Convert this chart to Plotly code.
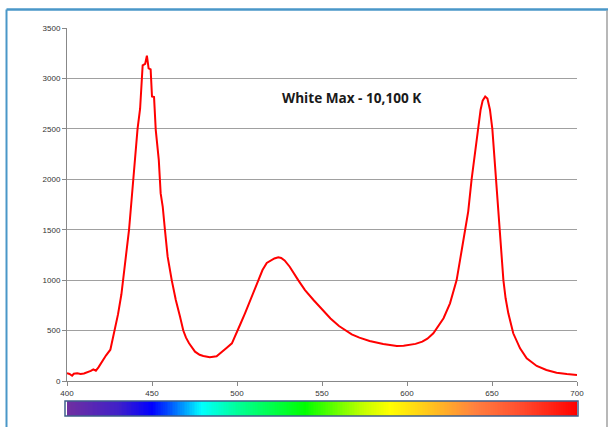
import plotly.graph_objects as go

# ---- data ----
wavelength = [400, 401.5, 403, 404, 406, 408, 410, 412, 414, 415.5, 417, 418.5, 421, 423, 425.5,
              427.5, 430, 432, 433, 434.5, 436.5, 438, 439, 440.5, 441.5, 443, 444.5, 446, 447,
              448, 449.2, 450, 451.2, 452.2, 454, 455.1, 456.3, 457.6, 459.2, 461.6, 464, 466.5,
              468.4, 470, 471.8, 475.3, 478, 480.2, 484, 488, 491.6, 494, 497, 500.5, 502, 504.7,
              508.6, 512.5, 515, 517.5, 520, 522, 524.3, 526, 528, 531, 536, 540, 545, 551, 555,
              560, 567.5, 572, 578, 586, 594, 598, 602, 605, 609, 612, 615.5, 618, 621.5, 625.3,
              629.2, 632.2, 634.4, 636, 638, 640, 641.6, 643.3, 644.5, 646, 647.3, 648.8, 650.2,
              651.3, 652.4, 654.3, 656.7, 658, 659.6, 662.5, 666.5, 670.4, 676.3, 682, 688, 694, 700]
intensity = [76, 70, 52, 72, 76, 70, 74, 85, 100, 116, 102, 135, 205, 255, 310,
             470, 660, 860, 1000, 1220, 1500, 1800, 2000, 2300, 2500, 2700, 3130, 3145, 3225,
             3100, 3090, 2820, 2815, 2490, 2190, 1860, 1730, 1500, 1233, 1000, 804, 638,
             500, 430, 374, 291, 260, 248, 235, 245, 291, 330, 374, 500, 565, 671,
             836, 1000, 1100, 1170, 1200, 1215, 1227, 1220, 1195, 1133, 1000, 902, 803, 687, 620,
             545, 463, 430, 397, 367, 347, 350, 357, 368, 390, 420, 473, 530, 622, 770,
             1000, 1299, 1500, 1680, 2000, 2280, 2500, 2690, 2780, 2821, 2800, 2690, 2500,
             2250, 2000, 1500, 1000, 820, 671, 473, 324, 225, 149, 109, 82, 69, 60]

x_ticks = [400, 450, 500, 550, 600, 650, 700]
y_ticks = [0, 500, 1000, 1500, 2000, 2500, 3000, 3500]
title_text = "White Max - 10,100 K"

# spectrum strip
spectrum_wl = list(range(400, 701))
spectrum_stops = [(400, "#7030A0"), (430, "#4020C8"), (450, "#0000FF"), (460, "#0050FF"),
                  (470, "#00A8FF"), (479, "#00FFFF"), (500, "#00FF99"), (540, "#00FF00"),
                  (575, "#C8FF00"), (590, "#FFFF00"), (615, "#FFC020"), (640, "#FF8040"),
                  (665, "#FF5030"), (700, "#FF0000")]

colorscale = [[(w - 400) / 300, c] for w, c in spectrum_stops]

fig = go.Figure()
fig.add_trace(go.Scatter(x=wavelength, y=intensity, mode="lines",
                         line=dict(color="#FF0000", width=2), showlegend=False,
                         xaxis="x", yaxis="y", hoverinfo="skip"))
fig.add_trace(go.Heatmap(x=spectrum_wl, y=[0], z=[spectrum_wl], colorscale=colorscale,
                         zmin=400, zmax=700, showscale=False, xaxis="x2", yaxis="y2",
                         hoverinfo="skip"))

W, H = 608, 427
L, R, T, B = 67, 31, 28, 11
plot_w = W - L - R
plot_h = H - T - B
y_main_bottom = (416 - 381) / plot_h
y_strip_top = (416 - 401) / plot_h

tickfont = dict(family="Liberation Sans, Arial, sans-serif", size=8, color="#333333")

fig.update_layout(
    template="none",
    width=W, height=H,
    margin=dict(l=L, r=R, t=T, b=B, pad=0, autoexpand=False),
    paper_bgcolor="white", plot_bgcolor="white",
    xaxis=dict(range=[400, 700], tickvals=x_ticks, ticks="outside", ticklen=4,
               tickcolor="#888888", showline=True, linecolor="#888888", linewidth=1,
               showgrid=False, zeroline=False, tickfont=tickfont, anchor="y",
               automargin=False),
    yaxis=dict(range=[0, 3500], tickvals=y_ticks, ticks="outside", ticklen=4,
               tickcolor="#888888", showline=True, linecolor="#888888", linewidth=1,
               showgrid=True, gridcolor="#a0a0a0", gridwidth=1, zeroline=False,
               tickfont=tickfont, domain=[y_main_bottom, 1], anchor="x", automargin=False),
    xaxis2=dict(range=[400, 700], visible=False, anchor="y2", domain=[0, 1], automargin=False),
    yaxis2=dict(range=[-0.5, 0.5], visible=False, domain=[0, y_strip_top], anchor="x2",
                automargin=False),
    annotations=[dict(x=567.6, y=2808, xref="x", yref="y", text="<b>%s</b>" % title_text,
                      showarrow=False, font=dict(family="Open Sans, sans-serif", size=13.6,
                                                 color="#1a1a1a"))],
    shapes=[
        # spectrum strip border
        dict(type="rect", xref="paper", yref="paper", x0=-2 / plot_w, x1=1 + 1 / plot_w,
             y0=0, y1=y_strip_top, line=dict(color="#3F5F8A", width=1.5)),
        # outer frame
        dict(type="line", xref="paper", yref="paper", x0=(6.5 - L) / plot_w, x1=(608 - L) / plot_w,
             y0=(416 - 9.5) / plot_h, y1=(416 - 9.5) / plot_h,
             line=dict(color="#4A97C8", width=2.5)),
        dict(type="line", xref="paper", yref="paper", x0=(6.5 - L) / plot_w, x1=(6.5 - L) / plot_w,
             y0=(416 - 9.5) / plot_h, y1=(416 - 430) / plot_h,
             line=dict(color="#4A97C8", width=2)),
        dict(type="line", xref="paper", yref="paper", x0=(607 - L) / plot_w, x1=(607 - L) / plot_w,
             y0=(416 - 10.5) / plot_h, y1=(416 - 430) / plot_h,
             line=dict(color="#A0A0A0", width=1.5)),
    ],
)

fig.write_html("out.html", config={"displayModeBar": False, "staticPlot": True},
               post_script="document.body.style.margin='0px';document.body.style.overflow='hidden';")
